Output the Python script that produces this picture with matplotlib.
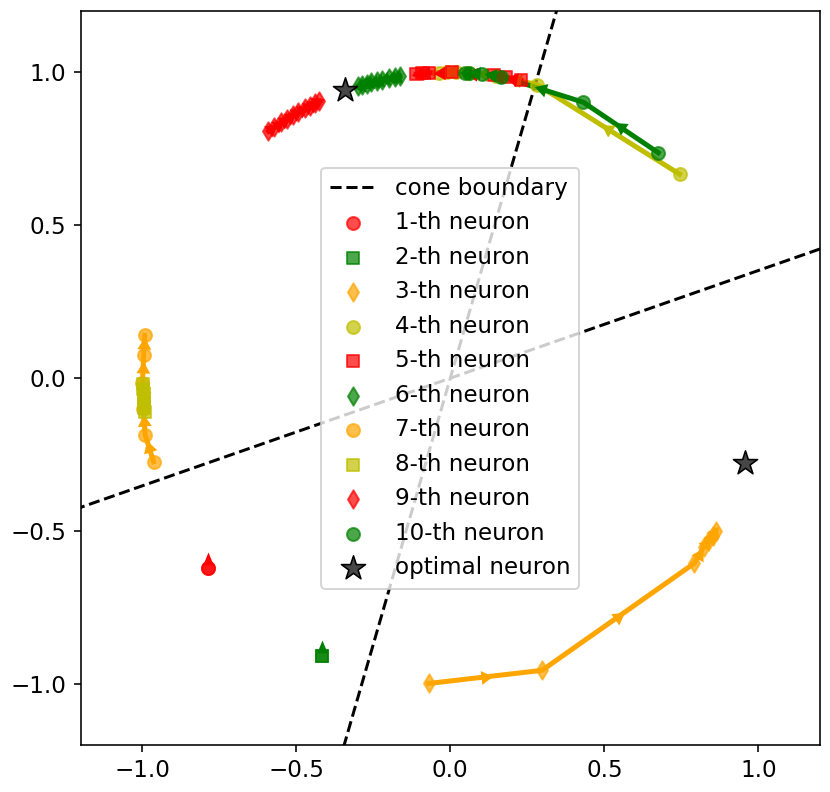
import numpy as np
import matplotlib.pyplot as plt

# normalised neuron directions along training
neuron_x = [
    [-0.785, -0.785],
    [-0.417, -0.417],
    [-0.070, 0.298, 0.792, 0.822, 0.839, 0.851, 0.862],
    [0.744, 0.281, 0.150, 0.060, 0.020, -0.010, -0.038],
    [0.228, 0.180, 0.142, 0.005, -0.068, -0.092, -0.110],
    [-0.163, -0.180, -0.200, -0.222, -0.238, -0.256, -0.270, -0.286, -0.298],
    [-0.963, -0.990, -0.997, -0.999, -0.995, -0.992],
    [-0.996, -0.996, -0.995, -0.995, -0.994, -0.993, -0.992],
    [-0.590, -0.572, -0.548, -0.531, -0.509, -0.493, -0.471, -0.455, -0.438, -0.425],
    [0.675, 0.432, 0.165, 0.103, 0.062, 0.048],
]
neuron_y = [
    [-0.622, -0.622],
    [-0.909, -0.909],
    [-0.998, -0.955, -0.605, -0.552, -0.530, -0.515, -0.498],
    [0.667, 0.960, 0.988, 0.998, 1.000, 1.000, 0.999],
    [0.974, 0.984, 0.990, 1.000, 0.998, 0.996, 0.994],
    [0.987, 0.984, 0.980, 0.975, 0.971, 0.967, 0.963, 0.958, 0.955],
    [-0.273, -0.186, -0.100, -0.017, 0.075, 0.140],
    [-0.020, -0.035, -0.052, -0.066, -0.081, -0.096, -0.110],
    [0.807, 0.820, 0.836, 0.847, 0.861, 0.870, 0.882, 0.890, 0.899, 0.905],
    [0.737, 0.902, 0.986, 0.995, 0.998, 0.999],
]
labels = [f'{i}-th neuron' for i in range(1, 11)]

# optimal neurons and cone boundary directions
opt_x = [-0.341, 0.958]
opt_y = [0.941, -0.278]
cone_dirs = [(0.276, 0.961), (0.943, 0.332)]

colors = ['r', 'g', 'orange', 'y']
markers = ['o', 's', 'd']

plt.rcParams['font.size'] = 11.5
fig = plt.figure(figsize=(830 / 144, 792 / 144), dpi=144)
ax = fig.add_axes([0.097, 0.059, 0.891, 0.927])
ax.set_xlim(-1.2, 1.2)
ax.set_ylim(-1.2, 1.2)

# cone boundary
t = np.array([-2.0, 2.0])
for k, (dx, dy) in enumerate(cone_dirs):
    ax.plot(t * dx, t * dy, 'k--', lw=1.5,
            label='cone boundary' if k == 0 else None, zorder=1)

# marker for a neuron that did not move: arrow head sitting on top of the point
up_head = [(0, 1.0), (-0.33, 0.2), (0.33, 0.2), (0, 1.0)]

for i in range(10):
    c = colors[i % 4]
    m = markers[i % 3]
    xs = np.array(neuron_x[i])
    ys = np.array(neuron_y[i])
    ax.plot(xs, ys, color=c, lw=2.5, zorder=2)
    ax.scatter(xs, ys, c=c, marker=m, s=42, alpha=0.7, label=labels[i], zorder=3)
    # arrows at the middle of each step
    for j in range(len(xs) - 1):
        dx = xs[j + 1] - xs[j]
        dy = ys[j + 1] - ys[j]
        if dx == 0 and dy == 0:
            ax.plot(xs[j], ys[j], marker=up_head, ms=16, color=c,
                    mec='none', zorder=3)
            continue
        ang = np.degrees(np.arctan2(dy, dx))
        ax.plot((xs[j] + xs[j + 1]) / 2, (ys[j] + ys[j + 1]) / 2,
                marker=(3, 0, ang - 90), ms=8, color=c, mec='none', zorder=3)

ax.scatter(opt_x, opt_y, marker='*', s=160, c='0.28', edgecolors='k',
           linewidths=0.8, label='optimal neuron', zorder=4)

ax.legend(loc='center')

plt.savefig('out.png', dpi=144)
